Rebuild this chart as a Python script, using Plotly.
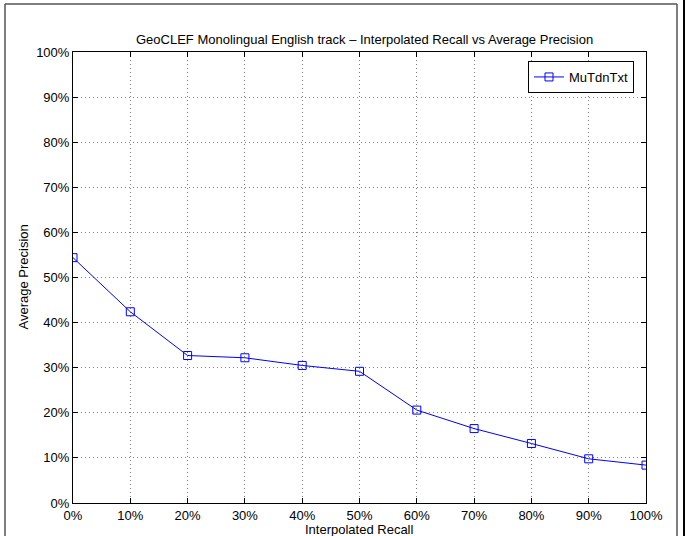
import plotly.graph_objects as go

recall = [0.0, 0.1, 0.2, 0.3, 0.4, 0.5, 0.6, 0.7, 0.8, 0.9, 1.0]
precision = [0.544, 0.424, 0.327, 0.322, 0.305, 0.292, 0.206, 0.165, 0.132, 0.098, 0.084]
series_name = "MuTdnTxt"
title_text = "GeoCLEF Monolingual English track \u2013 Interpolated Recall vs Average Precision"
x_label = "Interpolated Recall"
y_label = "Average Precision"
tick_vals = [i / 10 for i in range(11)]

W, H = 685, 536
L, R, T, B = 73, 39, 52, 33
pw, ph = W - L - R, H - T - B

def px(x):
    return (x - L) / pw

def py(y):
    return (H - B - y) / ph

font = dict(family="Liberation Sans, Arial, Helvetica, sans-serif", size=13, color="black")

fig = go.Figure()
fig.add_trace(go.Scatter(
    x=recall, y=precision, mode="lines+markers", name=series_name,
    line=dict(color="#0000FF", width=1),
    marker=dict(symbol="square-open", size=8, color="#0000FF", line=dict(width=1, color="#0000FF")),
))

axis_common = dict(
    range=[0, 1], tickvals=tick_vals, tickformat=".0%",
    showline=True, linecolor="black", linewidth=1, mirror="ticks",
    ticks="inside", ticklen=5, tickcolor="black", tickwidth=1,
    showgrid=True, gridcolor="rgba(0,0,0,0.5)", griddash="1px,3px", gridwidth=1,
    zeroline=False, tickfont=font, fixedrange=True,
)
fig.update_xaxes(**axis_common)
fig.update_yaxes(**axis_common, ticklabelstandoff=0)

fig.update_layout(
    width=W, height=H, autosize=False,
    margin=dict(l=L, r=R, t=T, b=B, pad=0),
    paper_bgcolor="white", plot_bgcolor="white",
    font=font,
    showlegend=True,
    legend=dict(
        x=px(634), y=py(61), xanchor="right", yanchor="top",
        bordercolor="black", borderwidth=1, bgcolor="white",
        font=font, itemwidth=30, tracegroupgap=0,
    ),
    annotations=[
        dict(text=title_text, x=px(364), y=py(39), xref="paper", yref="paper",
             xanchor="center", yanchor="middle", showarrow=False, font=font),
        dict(text=x_label, x=0.5, y=py(529), xref="paper", yref="paper",
             xanchor="center", yanchor="middle", showarrow=False, font=font),
        dict(text=y_label, x=px(23), y=0.5, xref="paper", yref="paper",
             xanchor="center", yanchor="middle", textangle=-90, showarrow=False, font=font),
    ],
    shapes=[
        dict(type="line", xref="paper", yref="paper", x0=px(5), x1=px(5), y0=py(4), y1=py(540),
             line=dict(color="#555555", width=1.5)),
        dict(type="line", xref="paper", yref="paper", x0=px(5), x1=px(677), y0=py(4), y1=py(4),
             line=dict(color="#555555", width=1.5)),
        dict(type="line", xref="paper", yref="paper", x0=px(677), x1=px(677), y0=py(4), y1=py(540),
             line=dict(color="#555555", width=1.5)),
        dict(type="rect", xref="paper", yref="paper", x0=px(683), x1=px(690), y0=py(0), y1=py(540),
             line=dict(width=0), fillcolor="black"),
    ],
)

fig.write_html(
    "out.html",
    config={"displayModeBar": False, "staticPlot": True},
    post_script="document.body.style.margin='0';document.body.style.overflow='hidden';",
)
